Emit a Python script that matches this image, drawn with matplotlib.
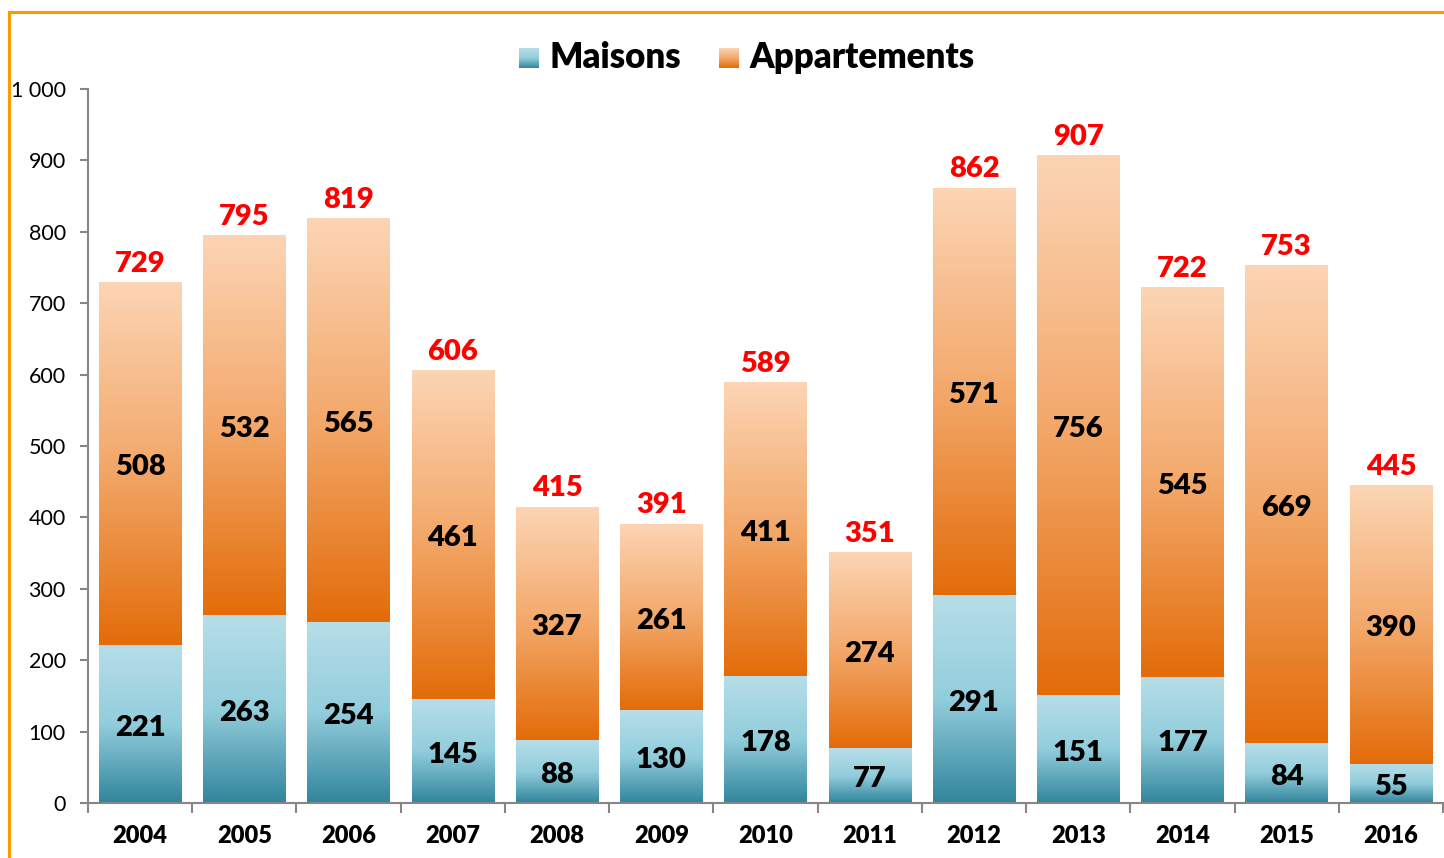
import matplotlib

matplotlib.use("Agg")

import matplotlib.pyplot as plt
import numpy as np
from matplotlib.colors import LinearSegmentedColormap
from matplotlib.patches import Rectangle
from matplotlib.ticker import FuncFormatter, MultipleLocator

years = ["2004", "2005", "2006", "2007", "2008", "2009", "2010",
         "2011", "2012", "2013", "2014", "2015", "2016"]
maisons = [221, 263, 254, 145, 88, 130, 178, 77, 291, 151, 177, 84, 55]
appartements = [508, 532, 565, 461, 327, 261, 411, 274, 571, 756, 545, 669, 390]
totals = [729, 795, 819, 606, 415, 391, 589, 351, 862, 907, 722, 753, 445]

plt.rcParams["font.family"] = ["Lato", "DejaVu Sans"]
WEIGHT = "heavy"

teal = LinearSegmentedColormap.from_list("teal", ["#31859c", "#92cddc", "#b7dee8"])
orange = LinearSegmentedColormap.from_list("orange", ["#e36c09", "#f3a86a", "#fcd5b5"])

fig = plt.figure(figsize=(14.44, 8.58), dpi=100, facecolor="white")
ax = fig.add_axes([88 / 1444, 1 - 803 / 858, 1355 / 1444, (803 - 89) / 858])

x = np.arange(len(years))
width = 0.79
grad = np.linspace(0, 1, 256).reshape(-1, 1)


def gradient_bars(bars, cmap):
    for b in bars:
        b.set_alpha(0)
        x0, y0 = b.get_x(), b.get_y()
        w, h = b.get_width(), b.get_height()
        im = ax.imshow(grad, cmap=cmap, origin="lower", aspect="auto",
                       extent=(x0, x0 + w, y0, y0 + h), zorder=2)
        clip = Rectangle((x0, y0), w, h, transform=ax.transData)
        im.set_clip_path(clip)


b1 = ax.bar(x, maisons, width, color="#4bacc6", zorder=2)
b2 = ax.bar(x, appartements, width, bottom=maisons, color="#f79646", zorder=2)
gradient_bars(b1, teal)
gradient_bars(b2, orange)

for i in range(len(years)):
    ax.text(x[i], maisons[i] / 2 - 5, str(maisons[i]), ha="center", va="center",
            fontsize=21, fontweight=WEIGHT, color="black", zorder=4)
    ax.text(x[i], maisons[i] + appartements[i] / 2 - 5, str(appartements[i]),
            ha="center", va="center", fontsize=21, fontweight=WEIGHT,
            color="black", zorder=4)
    ax.text(x[i], totals[i] + 8, str(totals[i]), ha="center", va="bottom",
            fontsize=21, fontweight=WEIGHT, color="#ff0000", zorder=4)

ax.set_xlim(-0.5, len(years) - 0.5)
ax.set_ylim(0, 1000)
ax.yaxis.set_major_locator(MultipleLocator(100))
ax.yaxis.set_major_formatter(FuncFormatter(lambda v, p: f"{int(v):,}".replace(",", " ")))
ax.set_xticks(x)
ax.set_xticklabels(years, fontsize=17, fontweight=WEIGHT)
ax.set_xticks(np.arange(-0.5, len(years)), minor=True)
ax.tick_params(axis="x", which="major", length=0, pad=16)
ax.tick_params(axis="x", which="minor", length=7, width=1.5, color="#868686")
ax.tick_params(axis="y", length=6, width=1.5, color="#868686", labelsize=15.5, pad=10)
for s in ["top", "right"]:
    ax.spines[s].set_visible(False)
for s in ["left", "bottom"]:
    ax.spines[s].set_color("#868686")
    ax.spines[s].set_linewidth(1.5)

# legend with gradient squares
legend_items = [("Maisons", teal, 519 / 1444), ("Appartements", orange, 719 / 1444)]
for label, cmap, lx in legend_items:
    lax = fig.add_axes([lx, 1 - 68 / 858, 20 / 1444, 20 / 858])
    lax.imshow(grad, cmap=cmap, origin="lower", aspect="auto")
    lax.set_axis_off()
    fig.text(lx + 30 / 1444, 1 - 58 / 858, label, fontsize=25, fontweight=WEIGHT,
             va="center", ha="left")

# orange frame (cropped at right and bottom)
fig.patches.append(Rectangle((9 / 1444, -0.05), 1.2, 1 - 12 / 858 + 0.05,
                             transform=fig.transFigure, fill=False,
                             edgecolor="#ff9900", linewidth=2.2))

fig.savefig("out.png", dpi=100, facecolor="white")
